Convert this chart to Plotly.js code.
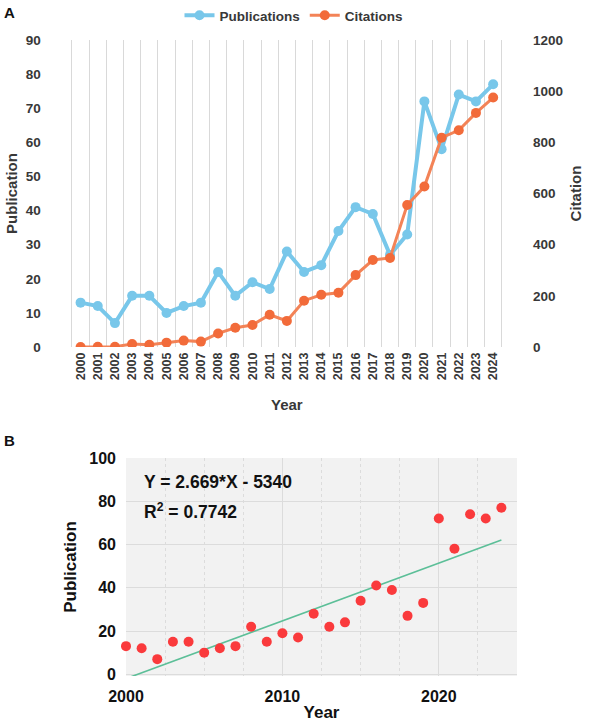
<!DOCTYPE html>
<html>
<head>
<meta charset="utf-8">
<script src="https://cdn.plot.ly/plotly-3.0.1.min.js"></script>
<style>
  html, body { margin: 0; padding: 0; background: #ffffff; }
  #chart { width: 600px; height: 722px; }
</style>
</head>
<body>
<div id="chart"></div>
<script>
// Yearly output and citation counts
const years = ['2000','2001','2002','2003','2004','2005','2006','2007','2008','2009','2010','2011','2012',
               '2013','2014','2015','2016','2017','2018','2019','2020','2021','2022','2023','2024'];
const publications = [13, 12, 7, 15, 15, 10, 12, 13, 22, 15, 19, 17, 28, 22, 24, 34, 41, 39, 27, 33, 72, 58, 74, 72, 77];
const citations = [0, 1, 1, 12, 9, 17, 25, 21, 53, 75, 86, 126, 102, 181, 204, 212, 281, 340, 348, 555, 627, 818, 847, 915, 975];

// Linear fit of publications against year
const fitSlope = 2.669;
const fitIntercept = -5340;
const fitR2 = 0.7742;

const yearNumbers = years.map(Number);
const fitX = [yearNumbers[0], yearNumbers[yearNumbers.length - 1]];
const fitY = fitX.map(x => fitSlope * x + fitIntercept);

const FONT = 'Liberation Sans, Arial, sans-serif';
const BLUE = '#78c7ea';
const ORANGE = '#f26b3a';
const ORANGE_LINE = '#f38357';

const traces = [
  {
    type: 'scatter', mode: 'lines+markers', name: 'Publications',
    x: years, y: publications, xaxis: 'x', yaxis: 'y',
    line: { color: BLUE, width: 4 },
    marker: { color: BLUE, size: 10 }
  },
  {
    type: 'scatter', mode: 'lines+markers', name: 'Citations',
    x: years, y: citations, xaxis: 'x', yaxis: 'y2',
    line: { color: ORANGE_LINE, width: 3 },
    marker: { color: ORANGE, size: 10 }
  },
  {
    type: 'scatter', mode: 'lines', showlegend: false,
    x: fitX, y: fitY, xaxis: 'x2', yaxis: 'y3',
    line: { color: '#5cbf98', width: 1.6 }
  },
  {
    type: 'scatter', mode: 'markers', showlegend: false,
    x: yearNumbers, y: publications, xaxis: 'x2', yaxis: 'y3',
    marker: { color: '#fa3a3c', size: 10 },
    cliponaxis: false
  }
];

const tickA = { family: FONT, size: 13.5, color: '#383838', weight: 'bold' };
const titleA = { family: FONT, size: 15, color: '#383838', weight: 'bold' };
const tickB = { family: FONT, size: 16, color: '#111111', weight: 'bold' };
const titleB = { family: FONT, size: 17, color: '#111111', weight: 'bold' };

const layout = {
  width: 600, height: 722, autosize: false,
  margin: { l: 0, r: 0, t: 0, b: 0 },
  paper_bgcolor: '#ffffff',
  plot_bgcolor: 'rgba(0,0,0,0)',
  font: { family: FONT },
  showlegend: true,
  legend: {
    orientation: 'h', x: 0.49, xanchor: 'center', y: 1.0, yanchor: 'top',
    font: { family: FONT, size: 13.5, color: '#383838', weight: 'bold' },
    bgcolor: 'rgba(0,0,0,0)', itemwidth: 30, tracegroupgap: 0
  },
  // Panel A: publications and citations per year
  xaxis: {
    domain: [0.0845, 0.8717], anchor: 'y',
    type: 'category', tickson: 'boundaries',
    showgrid: true, gridcolor: '#d9d9d9', gridwidth: 1,
    showline: false, zeroline: false, ticks: '',
    tickangle: -90, tickfont: { family: FONT, size: 12.5, color: '#383838', weight: 'bold' },
    ticklabelstandoff: 2,
    title: { text: 'Year', font: titleA, standoff: 20 }
  },
  yaxis: {
    domain: [0.5194, 0.9446], anchor: 'x',
    range: [0, 90], dtick: 10, showgrid: false, zeroline: false, showline: false, ticks: '',
    tickfont: tickA, ticklabelstandoff: 9,
    title: { text: 'Publication', font: titleA, standoff: 4 }
  },
  yaxis2: {
    overlaying: 'y', side: 'right', anchor: 'x',
    range: [0, 1200], dtick: 200, showgrid: false, zeroline: false, showline: false, ticks: '',
    tickfont: tickA, ticklabelstandoff: 9,
    title: { text: 'Citation', font: titleA, standoff: 8 }
  },
  // Panel B: linear trend of yearly publications
  xaxis2: {
    domain: [0.21, 0.8617], anchor: 'y3',
    range: [2000, 2025], dtick: 10, tick0: 2000,
    showgrid: true, gridcolor: '#dcdcdc', gridwidth: 1,
    minor: { dtick: 2.5, showgrid: true, gridcolor: '#dcdcdc', griddash: 'dot', gridwidth: 1 },
    showline: false, zeroline: false, ticks: '',
    tickfont: tickB, ticklabelstandoff: 9,
    title: { text: 'Year', font: titleB, standoff: 6 }
  },
  yaxis3: {
    domain: [0.0637, 0.3657], anchor: 'x2',
    range: [-0.8, 100], dtick: 20, tick0: 0,
    showgrid: true, gridcolor: '#dcdcdc', gridwidth: 1,
    showline: false, zeroline: false, ticks: '',
    tickfont: tickB, ticklabelstandoff: 9,
    title: { text: 'Publication', font: titleB, standoff: 8 }
  },
  shapes: [
    {
      type: 'rect', xref: 'x2 domain', yref: 'y3 domain', x0: 0, x1: 1, y0: 0, y1: 1,
      fillcolor: '#f2f2f2', line: { width: 0 }, layer: 'below'
    }
  ],
  annotations: [
    { text: 'A', xref: 'paper', yref: 'paper', x: 0.003, y: 1 - 2 / 722, xanchor: 'left', yanchor: 'top',
      showarrow: false, font: { family: FONT, size: 15, color: '#111111', weight: 'bold' } },
    { text: 'B', xref: 'paper', yref: 'paper', x: 0.003, y: 1 - 430 / 722, xanchor: 'left', yanchor: 'top',
      showarrow: false, font: { family: FONT, size: 15, color: '#111111', weight: 'bold' } },
    { text: 'Y = ' + fitSlope + '*X - ' + Math.abs(fitIntercept), xref: 'paper', yref: 'paper',
      x: 142 / 600, y: 1 - 482 / 722, xanchor: 'left', yanchor: 'middle',
      showarrow: false, font: { family: FONT, size: 17.5, color: '#111111', weight: 'bold' } },
    { text: 'R<sup>2</sup> = ' + fitR2, xref: 'paper', yref: 'paper',
      x: 142 / 600, y: 1 - 511 / 722, xanchor: 'left', yanchor: 'middle',
      showarrow: false, font: { family: FONT, size: 17.5, color: '#111111', weight: 'bold' } }
  ]
};

Plotly.newPlot('chart', traces, layout, { displayModeBar: false, staticPlot: true });
</script>
</body>
</html>
